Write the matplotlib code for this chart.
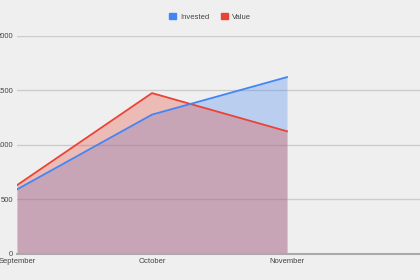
import numpy as np
from matplotlib import pyplot as plt
from matplotlib.patches import Patch

# datos
meses = ["September", "October", "November"]
invested = [589, 1277, 1622]
value = [628, 1475, 1124]
y_ticks = [0, 500, 1000, 1500, 2000]

azul = "#4285F4"
rojo = "#EA4335"
fondo = "#EFEFEF"

plt.rcParams['font.family'] = ['Liberation Sans', 'DejaVu Sans']

fig = plt.figure(figsize=(4.2, 2.8), dpi=100, facecolor=fondo)
ax = fig.add_axes([17/420, 26.5/280, 405/420, 217.5/280], facecolor=fondo)

x = np.arange(len(meses))
ax.fill_between(x, 0, invested, color=azul, alpha=0.3, linewidth=0)
ax.fill_between(x, 0, value, color=rojo, alpha=0.3, linewidth=0)
ax.plot(x, value, color=rojo, lw=1.3)
ax.plot(x, invested, color=azul, lw=1.3)

ax.set_xlim(0, 3)
ax.set_ylim(0, 2000)
ax.set_xticks(x)
ax.set_xticklabels(meses)
ax.set_yticks(y_ticks)
ax.set_yticklabels([str(t) for t in y_ticks])
ax.tick_params(length=0, labelsize=5.5, colors="#444444", pad=3)
ax.grid(axis="y", color="#CCCCCC", lw=1)
ax.set_axisbelow(True)
for s in ["top", "right", "left"]:
    ax.spines[s].set_visible(False)
ax.spines["bottom"].set_color("#AAAAAA")
ax.spines["bottom"].set_linewidth(1.5)

handles = [Patch(color=azul, label="Invested"), Patch(color=rojo, label="Value")]
fig.legend(handles=handles, loc="center", bbox_to_anchor=(0.5, 1 - 17/280), ncol=2,
           frameon=False, fontsize=5.5, labelcolor="#444444",
           handlelength=0.9, handleheight=0.9, handletextpad=0.5, columnspacing=1.5)

plt.savefig("out.png", dpi=100, facecolor=fondo)
